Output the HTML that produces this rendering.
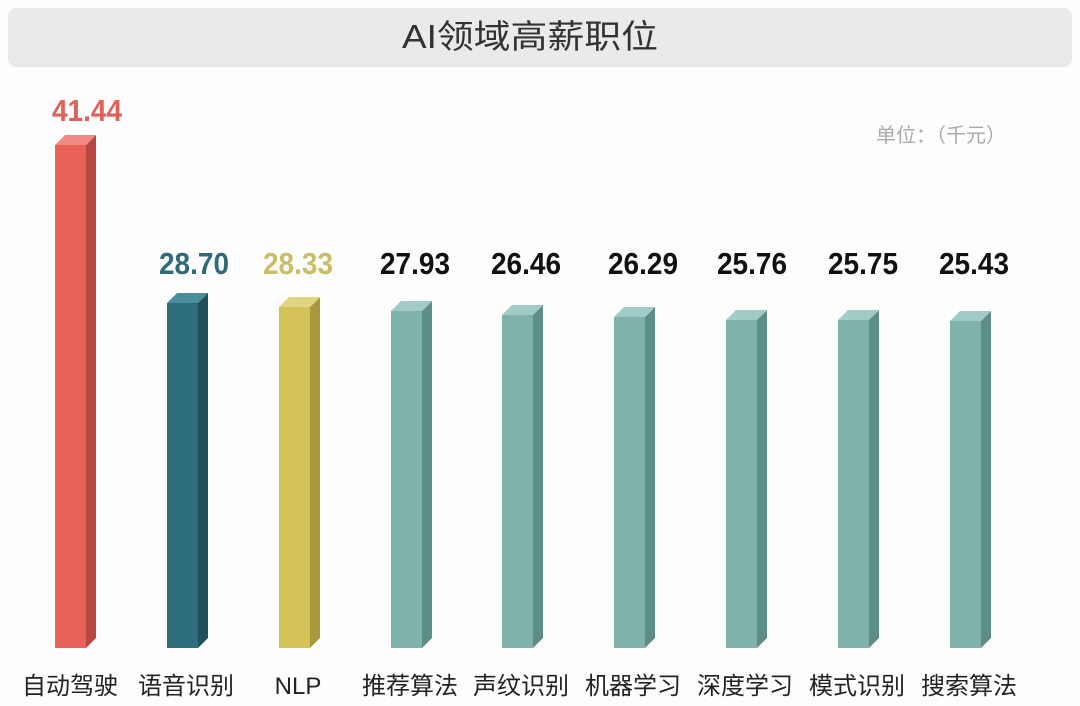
<!DOCTYPE html>
<html><head><meta charset="utf-8"><style>
html,body{margin:0;padding:0;background:#fdfdfd;}
svg{display:block;}
</style></head><body>
<svg width="1080" height="706" xmlns="http://www.w3.org/2000/svg">
<rect x="0" y="0" width="1080" height="706" fill="#fdfdfd"/>
<rect x="8" y="8" width="1064" height="59" rx="8" fill="#eaeaea"/>
<text x="530" y="48" text-anchor="middle" font-family="Liberation Sans, Noto Sans CJK SC, sans-serif" font-size="33" fill="#333" textLength="256" lengthAdjust="spacingAndGlyphs">AI领域高薪职位</text>
<text x="941" y="142" text-anchor="middle" font-family="Liberation Sans, Noto Sans CJK SC, sans-serif" font-size="20" fill="#aaa">单位：（千元）</text>

<!-- bar 1 -->
<polygon points="86,145 96,135 96,638 86,648" fill="#b94843"/>
<polygon points="55,145 65,135 96,135 86,145" fill="#f08a82"/>
<rect x="55" y="145" width="31" height="503" fill="#e8625a"/>
<!-- bar 2 -->
<polygon points="198,303 208,293 208,638 198,648" fill="#1f4f5a"/>
<polygon points="167,303 177,293 208,293 198,303" fill="#4a8e9c"/>
<rect x="167" y="303" width="31" height="345" fill="#2e6e7c"/>
<!-- bar 3 -->
<polygon points="310,307 320,297 320,638 310,648" fill="#a89a3c"/>
<polygon points="279,307 289,297 320,297 310,307" fill="#e2d47e"/>
<rect x="279" y="307" width="31" height="341" fill="#d3c255"/>
<!-- bar 4 -->
<polygon points="422,311 432,301 432,638 422,648" fill="#5e8d86"/>
<polygon points="391,311 401,301 432,301 422,311" fill="#a3cbc5"/>
<rect x="391" y="311" width="31" height="337" fill="#7fb2aa"/>
<!-- bar 5 -->
<polygon points="533,315 543,305 543,638 533,648" fill="#5e8d86"/>
<polygon points="502,315 512,305 543,305 533,315" fill="#a3cbc5"/>
<rect x="502" y="315" width="31" height="333" fill="#7fb2aa"/>
<!-- bar 6 -->
<polygon points="645,317 655,307 655,638 645,648" fill="#5e8d86"/>
<polygon points="614,317 624,307 655,307 645,317" fill="#a3cbc5"/>
<rect x="614" y="317" width="31" height="331" fill="#7fb2aa"/>
<!-- bar 7 -->
<polygon points="757,320 767,310 767,638 757,648" fill="#5e8d86"/>
<polygon points="726,320 736,310 767,310 757,320" fill="#a3cbc5"/>
<rect x="726" y="320" width="31" height="328" fill="#7fb2aa"/>
<!-- bar 8 -->
<polygon points="869,320 879,310 879,638 869,648" fill="#5e8d86"/>
<polygon points="838,320 848,310 879,310 869,320" fill="#a3cbc5"/>
<rect x="838" y="320" width="31" height="328" fill="#7fb2aa"/>
<!-- bar 9 -->
<polygon points="981,321 991,311 991,638 981,648" fill="#5e8d86"/>
<polygon points="950,321 960,311 991,311 981,321" fill="#a3cbc5"/>
<rect x="950" y="321" width="31" height="327" fill="#7fb2aa"/>

<g font-family="Liberation Sans, Noto Sans CJK SC, sans-serif" font-size="24" fill="#222" text-anchor="middle">
<text x="70" y="694">自动驾驶</text>
<text x="186" y="694">语音识别</text>
<text x="298" y="694">NLP</text>
<text x="410" y="694">推荐算法</text>
<text x="521" y="694">声纹识别</text>
<text x="633" y="694">机器学习</text>
<text x="745" y="694">深度学习</text>
<text x="857" y="694">模式识别</text>
<text x="969" y="694">搜索算法</text>
</g>
<g font-family="Liberation Sans Narrow, Liberation Sans, sans-serif" font-size="31" font-weight="bold" text-anchor="middle">
<text x="87" y="121" fill="#e0605a" textLength="70" lengthAdjust="spacingAndGlyphs">41.44</text>
<text x="194" y="274" fill="#2e6a78" textLength="70" lengthAdjust="spacingAndGlyphs">28.70</text>
<text x="298" y="274" fill="#cbbd66" textLength="70" lengthAdjust="spacingAndGlyphs">28.33</text>
<text x="415" y="274" fill="#111" textLength="70" lengthAdjust="spacingAndGlyphs">27.93</text>
<text x="526" y="274" fill="#111" textLength="70" lengthAdjust="spacingAndGlyphs">26.46</text>
<text x="643" y="274" fill="#111" textLength="70" lengthAdjust="spacingAndGlyphs">26.29</text>
<text x="752" y="274" fill="#111" textLength="70" lengthAdjust="spacingAndGlyphs">25.76</text>
<text x="863" y="274" fill="#111" textLength="70" lengthAdjust="spacingAndGlyphs">25.75</text>
<text x="974" y="274" fill="#111" textLength="70" lengthAdjust="spacingAndGlyphs">25.43</text>
</g>
</svg>
</body></html>
